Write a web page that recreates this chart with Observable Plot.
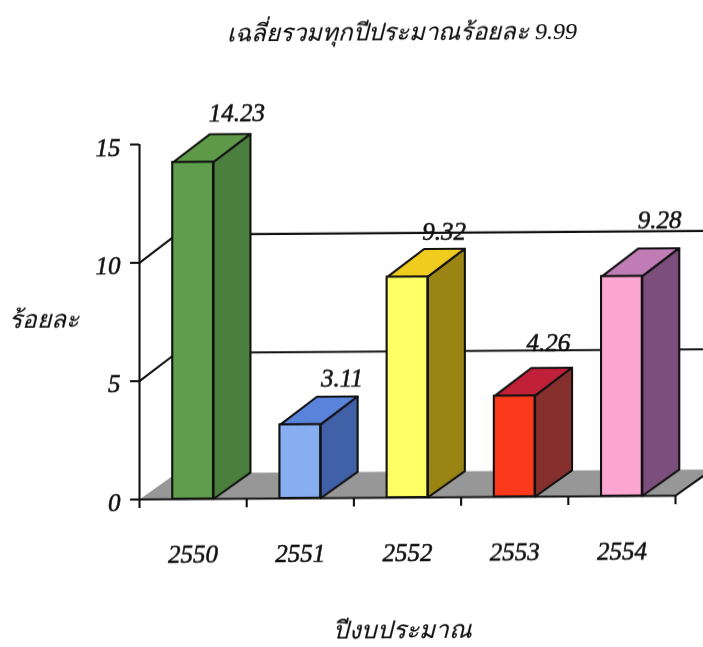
<!DOCTYPE html>
<html><head><meta charset="utf-8">
<script src="https://cdn.jsdelivr.net/npm/d3@7"></script>
<script src="https://cdn.jsdelivr.net/npm/@observablehq/plot@0.6"></script>
<style>
html,body{margin:0;padding:0;background:#fff;width:703px;height:647px;overflow:hidden}
#page{width:703px;height:647px;position:relative;transform-origin:139px 498px;transform:skewY(-0.4deg);filter:blur(0.4px);font-family:"Liberation Serif",serif;font-style:italic;font-weight:normal;color:#111}
#title{height:58px;box-sizing:border-box;padding-top:18px;padding-left:101px;text-align:center;font-size:24px;line-height:32px;-webkit-text-stroke:0.15px #111}
#caption{height:69px;box-sizing:border-box;padding-top:38px;padding-left:101px;text-align:center;font-size:24.5px;line-height:32px;-webkit-text-stroke:0.15px #111}
svg{display:block;overflow:hidden}
</style></head><body>
<div id="page"><div id="title"></div><div id="chart"></div><div id="caption"></div></div>
<script>
const titleText = "เฉลี่ยรวมทุกปีประมาณร้อยละ 9.99";
const yLabel = "ร้อยละ";
const xLabel = "ปีงบประมาณ";
const years = ["2550","2551","2552","2553","2554"];
const values = [14.23,3.11,9.32,4.26,9.28];
const frontColors = ["#5f9e4c","#86aef0","#ffff66","#fb3a1c","#fda6d2"];
const topColors = ["#5f9a48","#5a84dc","#f0cc1e","#c02038","#c07cb4"];
const sideColors = ["#4a7f3e","#4060a8","#9a8414","#86302e","#7c4e7c"];
const gridValues = [5,10];
const yTicks = [0,5,10,15];
const xTicks = [0,1,2,3,4,5];
const depthX = 0.345, depthY = 1.18, floorDepth = 1.1, barLo = 0.31, barHi = 0.69;
const labelNudge = [[4,1],[2,4],[-3,5],[-6,-3],[-2,-6]];

const faces = [];
values.forEach((v,i)=>{
  const a=i+barLo,b=i+barHi;
  [[`t${i}`,topColors[i],[[a,v],[b,v],[b+depthX,v+depthY],[a+depthX,v+depthY],[a,v]]],
   [`s${i}`,sideColors[i],[[b,0],[b+depthX,floorDepth],[b+depthX,v+depthY],[b,v],[b,0]]]]
  .forEach(([id,c,pts])=>pts.forEach(([x,y])=>faces.push({id,c,x,y})));
});
const floor = [[0,0],[5,0],[5+depthX,floorDepth],[depthX,floorDepth]].map(([x,y])=>({x,y}));
const grid = gridValues.flatMap(v=>[[0,v],[depthX,v+depthY],[5.4,v+depthY]].map(([x,y])=>({x,y,v})));
const bars = values.map((v,i)=>({v,a:i+barLo,b:i+barHi,c:frontColors[i]}));

document.getElementById("title").textContent = titleText;
document.getElementById("caption").textContent = xLabel;

const fs = 25, sw = 2.1;
const textInk = {fill:"#111",stroke:"#111",strokeWidth:0.55};
const plot = Plot.plot({
  width:703, height:520,
  marginLeft:139, marginRight:28, marginTop:86, marginBottom:79,
  style:{fontFamily:'"Liberation Serif",serif',fontStyle:"italic",fontWeight:"normal",fontSize:fs+"px",color:"#111",background:"transparent"},
  x:{type:"linear",domain:[0,5],axis:null},
  y:{domain:[0,15],axis:null},
  color:{type:"identity"},
  marks:[
    Plot.line(floor.concat(floor[0]),{x:"x",y:"y",fill:"#979797",stroke:"none"}),
    Plot.line(grid,{x:"x",y:"y",z:"v",stroke:"#111",strokeWidth:sw}),
    Plot.line(floor.slice(1,3),{x:"x",y:"y",stroke:"#111",strokeWidth:sw}),
    Plot.line(faces,{x:"x",y:"y",z:"id",fill:"c",stroke:"#111",strokeWidth:sw}),
    Plot.rect(bars,{x1:"a",x2:"b",y1:0,y2:"v",fill:"c",stroke:"#111",strokeWidth:sw}),
    Plot.ruleX([0],{y1:0,y2:15,stroke:"#111",strokeWidth:sw}),
    Plot.ruleY([0],{x1:0,x2:5,stroke:"#111",strokeWidth:sw}),
    Plot.axisY({ticks:yTicks,tickSize:9,stroke:"#111",strokeWidth:sw,tickFormat:()=>"",label:null}),
    Plot.axisX({ticks:xTicks,tickSize:9,stroke:"#111",strokeWidth:sw,tickFormat:()=>"",label:null}),
    Plot.text(yTicks,{x:0,y:d=>d,text:d=>String(d),dx:-19,dy:3,textAnchor:"end",fontSize:fs,...textInk}),
    Plot.text(years,{x:(d,i)=>i+0.5,y:0,dy:55,text:d=>d,fontSize:fs,...textInk}),
    ...values.map((v,i)=>Plot.text([v],{x:i+0.87,y:v,text:d=>d.toFixed(2),dx:labelNudge[i][0],dy:-50+labelNudge[i][1],fontSize:fs,...textInk})),
    Plot.text([yLabel],{frameAnchor:"left",textAnchor:"middle",dx:-96,dy:-3,fontSize:24.5,fill:"#111",stroke:"#111",strokeWidth:0.15})
  ]
});
document.getElementById("chart").append(plot);
</script>
</body></html>
